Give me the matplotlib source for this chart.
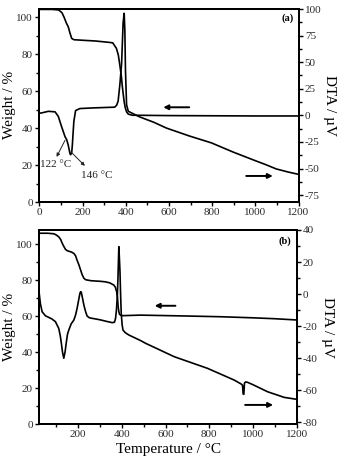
import matplotlib
matplotlib.use("Agg")
import matplotlib.pyplot as plt
from matplotlib.ticker import MultipleLocator

plt.rcParams['font.family'] = ['Liberation Serif', 'DejaVu Serif']
plt.rcParams['mathtext.fontset'] = 'stix'
plt.rcParams['axes.unicode_minus'] = False

# ---------------- Panel (a) data ----------------
tga_a_x = [0, 60, 90, 105, 115, 125, 134, 142, 150, 160, 200, 260, 320, 340, 357, 366, 373,
           380, 384, 390, 393, 398, 404, 412, 430, 600, 800, 1000, 1200]
tga_a_w = [104.3, 104.3, 104.0, 102.5, 100.0, 97.0, 94.9, 91.5, 88.6, 87.9, 87.6, 87.2, 86.5,
           86.2, 83.2, 79.5, 74.0, 68.0, 63.0, 57.0, 54.2, 51.0, 48.8, 47.6, 47.0, 46.8, 46.7,
           46.6, 46.6]

dta_a_x = [0, 11, 42, 73, 88, 103, 119, 127, 134, 142, 145, 150, 153, 157, 160, 168, 188, 250,
           349, 358, 365, 373, 381, 388, 393, 396, 399, 404, 412, 427, 465, 530, 589, 696, 797,
           897, 997, 1050, 1097, 1150, 1200]
dta_a_v = [2.0, 2.3, 3.8, 3.3, -1.0, -10.5, -20.0, -23.0, -28.0, -36.0, -37.0, -35.0, -28.0,
           -15.0, -5.7, 4.5, 6.4, 7.0, 7.7, 9.5, 13.4, 29.0, 48.6, 87.0, 96.0, 80.0, 42.0, 10.0,
           3.8, 2.3, -1.5, -6.5, -12.0, -19.5, -25.9, -34.5, -42.4, -46.5, -50.4, -53.2, -55.5]

# ---------------- Panel (b) data ----------------
tga_b_x = [22, 60, 89, 100, 111, 120, 127, 135, 142, 150, 157, 170, 180, 188, 195, 203, 211,
           218, 226, 234, 241, 260, 300, 325, 345, 363, 370, 376, 380, 383, 386, 389, 395, 402,
           486, 700, 853, 1000, 1100, 1200]
tga_b_w = [106.0, 106.0, 105.7, 105.0, 104.0, 102.5, 100.4, 98.5, 97.0, 96.3, 96.0, 95.5, 94.8,
           93.5, 91.0, 88.5, 85.6, 83.0, 81.0, 80.2, 80.0, 79.6, 79.3, 79.0, 78.4, 77.2, 76.0,
           73.5, 70.0, 65.0, 62.5, 61.0, 60.4, 60.2, 60.5, 60.0, 59.6, 59.0, 58.5, 57.8]

dta_b_x = [22, 27, 35, 50, 65, 80, 96, 111, 118, 123, 128, 134, 140, 145, 151, 157, 168, 180,
           188, 195, 203, 208, 211, 214, 219, 226, 234, 241, 252, 264, 300, 330, 356, 366, 371,
           375, 379, 382, 386, 388, 391, 394, 397, 401, 405, 415, 432, 486, 509, 639, 792, 914,
           945, 952, 955, 958, 961, 966, 975, 1000, 1067, 1143, 1200]
dta_b_v = [0.0, -6.0, -11.0, -13.5, -14.5, -15.5, -17.2, -21.4, -26.0, -30.7, -36.0, -40.0,
           -36.0, -30.7, -25.0, -22.4, -18.5, -16.2, -13.0, -8.9, -3.0, 0.5, 1.5, 1.3, -2.0,
           -6.8, -11.0, -13.7, -14.8, -15.1, -16.0, -17.0, -17.8, -17.5, -15.1, -10.0, -1.6,
           10.0, 29.6, 24.0, 15.0, 0.0, -12.0, -19.0, -22.4, -24.0, -25.5, -29.0, -30.7, -39.0,
           -46.3, -53.6, -56.0, -56.8, -62.3, -62.5, -55.5, -54.8, -55.0, -56.5, -60.9, -64.4,
           -65.6]

# annotations (panel a, DTA units)
ann_labels = ["122 °C", "146 °C"]
ann_from = [(119, -23.5), (146.5, -34.4)]
ann_to = [(80, -39.1), (211, -47.5)]
ann_text_pos = [(77, -46.2), (265, -56.2)]

# direction arrows (weight units): (x_start, x_end, y)
arrows_a = [(694, 574, 51.3), (958, 1081, 14.1)]
arrows_b = [(645, 550, 65.7), (964, 1092, 10.6)]

W, H = 340, 463
fig = plt.figure(figsize=(W / 100, H / 100), dpi=100)


def rect(l, t, r, b):
    return [l / W, 1 - b / H, (r - l) / W, (b - t) / H]


TICK_COLOR = '#2a2a2a'


def style(ax, ax2, xlim, wlim, dlim, dmaj, dmin):
    ax.set_xlim(*xlim)
    ax.set_ylim(*wlim)
    ax2.set_ylim(*dlim)
    ax.xaxis.set_major_locator(MultipleLocator(200))
    ax.xaxis.set_minor_locator(MultipleLocator(100))
    ax.yaxis.set_major_locator(MultipleLocator(20))
    ax.yaxis.set_minor_locator(MultipleLocator(10))
    ax2.yaxis.set_major_locator(MultipleLocator(dmaj))
    ax2.yaxis.set_minor_locator(MultipleLocator(dmin))
    for a in (ax, ax2):
        for s in a.spines.values():
            s.set_linewidth(1.4)
        a.tick_params(which='major', direction='out', length=3, width=1.0,
                      labelsize=8, labelcolor=TICK_COLOR, pad=1.5)
        a.tick_params(which='minor', direction='out', length=2, width=1.0)
    ax.set_ylabel("Weight / %", fontsize=11)
    ax.yaxis.set_label_coords(-0.115, 0.5)
    ax.yaxis.label.set_va('center')
    ax2.set_ylabel("DTA / µV", fontsize=11, rotation=270)
    ax2.yaxis.set_label_coords(1.12, 0.5)
    ax2.yaxis.label.set_va('center')


def draw_dir_arrows(ax, arrows):
    for x0, x1, y in arrows:
        ax.annotate('', xy=(x1, y), xytext=(x0, y),
                    arrowprops=dict(arrowstyle='-|>', lw=1.4, color='black',
                                    mutation_scale=7, shrinkA=0, shrinkB=0))


# ---------------- Panel (a) ----------------
axA = fig.add_axes(rect(39.3, 8.5, 298.5, 202))
axA2 = axA.twinx()
axA.plot(tga_a_x, tga_a_w, color='black', lw=1.2)
axA2.plot(dta_a_x, dta_a_v, color='black', lw=1.2)
style(axA, axA2, (0, 1200), (0, 104.8), (-81.5, 100.5), 25, 12.5)
draw_dir_arrows(axA, arrows_a)
axA.text(0.957, 0.95, "(a)", transform=axA.transAxes, fontsize=7.5, fontweight='bold',
         ha='center', va='center')
for lab, p0, p1, pt in zip(ann_labels, ann_from, ann_to, ann_text_pos):
    axA2.annotate('', xy=p1, xytext=p0,
                  arrowprops=dict(arrowstyle='-|>', lw=0.7, color='#222222',
                                  mutation_scale=5, shrinkA=0, shrinkB=0))
    axA2.text(pt[0], pt[1], lab, fontsize=8, ha='center', va='center', color='#222222')

# ---------------- Panel (b) ----------------
axB = fig.add_axes(rect(39.3, 230, 296.7, 424))
axB2 = axB.twinx()
axB.plot(tga_b_x, tga_b_w, color='black', lw=1.2)
axB2.plot(dta_b_x, dta_b_v, color='black', lw=1.2)
style(axB, axB2, (22, 1200), (0, 107.8), (-81, 40), 20, 10)
draw_dir_arrows(axB, arrows_b)
axB.text(0.955, 0.94, "(b)", transform=axB.transAxes, fontsize=7.5, fontweight='bold',
         ha='center', va='center')
axB.set_xlabel("Temperature / °C", fontsize=11, labelpad=3)

fig.savefig("out.png", dpi=100)
